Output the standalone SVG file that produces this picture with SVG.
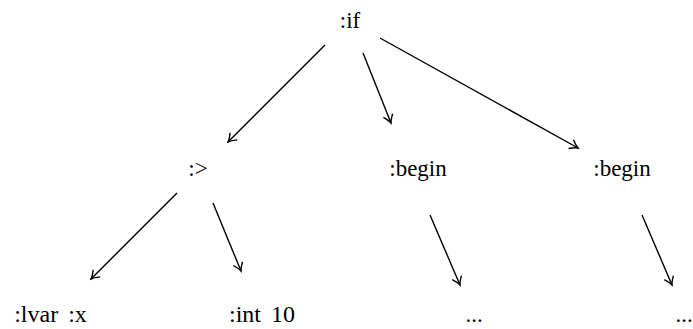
<svg xmlns="http://www.w3.org/2000/svg" width="693" height="329" viewBox="0 0 693 329">
<style>
text{font-size:23px;fill:#000;text-anchor:middle}
.b{font-size:24px;word-spacing:4px}
.c line{stroke:#000;stroke-width:1.4;marker-end:url(#a)}
</style>
<defs>
<marker id="a" viewBox="-10 -6 12 12" refX="0" refY="0" markerWidth="12" markerHeight="12" markerUnits="userSpaceOnUse" orient="auto">
<path d="M-8,-5 Q-3,-1 0,0 Q-3,1 -8,5" fill="none" stroke="#000" stroke-width="1.4"/>
</marker>
</defs>
<rect width="693" height="329" fill="#fff"/>
<g class="c" id="connectors">
<line x1="325" y1="45" x2="228" y2="142"/>
<line x1="363" y1="53" x2="391" y2="123"/>
<line x1="380" y1="38" x2="578" y2="148"/>
<line x1="177" y1="193" x2="91" y2="279"/>
<line x1="213" y1="203" x2="241" y2="271"/>
<line x1="430" y1="215" x2="460" y2="285"/>
<line x1="642" y1="215" x2="672" y2="285"/>
</g>
<g font-family="'Liberation Serif', 'Times New Roman', 'DejaVu Serif', serif">
<g id="n-if"><text x="350" y="28">:if</text></g>
<g id="n-gt"><text x="198" y="176">:&gt;</text></g>
<g id="n-begin1"><text x="418" y="176">:begin</text></g>
<g id="n-begin2"><text x="622" y="176">:begin</text></g>
<g id="n-lvar"><text class="b" x="50.5" y="322">:lvar :x</text></g>
<g id="n-int"><text class="b" x="262" y="322">:int 10</text></g>
<g id="n-dots1"><text x="474" y="322">...</text></g>
<g id="n-dots2"><text x="684" y="322">...</text></g>
</g>
</svg>
